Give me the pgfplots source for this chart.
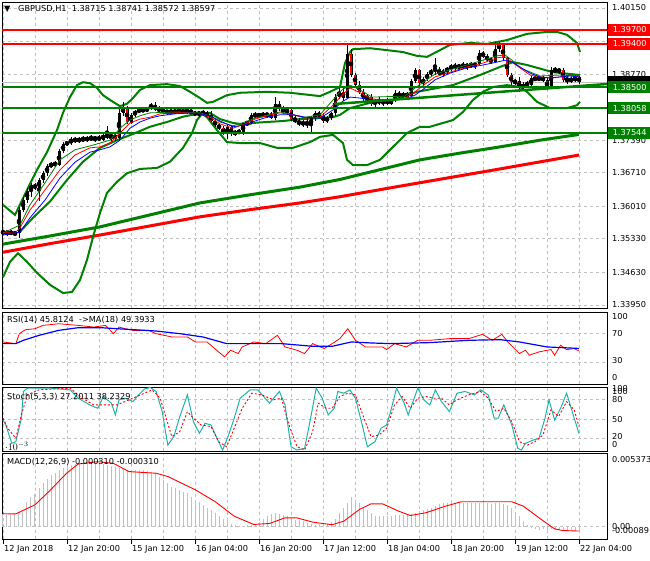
\documentclass[border=0pt]{standalone}
\usepackage{pgfplots}
\pgfplotsset{compat=1.18}
\usepackage{pgfplotstable}
\usepackage{fontspec}
\setmainfont{DejaVu Sans}

\definecolor{mtgreen}{HTML}{008000}
\definecolor{mtred}{HTML}{FF0000}
\definecolor{mtblue}{HTML}{0000FF}
\definecolor{mtgrid}{HTML}{C0C0C0}
\definecolor{mtteal}{HTML}{20B2AA}
\newcommand{\mtfont}{\fontsize{8.2pt}{9.5pt}\selectfont}

% H1 candles: bar, open, high, low, close
\pgfplotstableread{
i o h l c
0 1.3548 1.3552 1.3542 1.3545
1 1.3545 1.3550 1.3540 1.3547
2 1.3547 1.3551 1.3541 1.3544
3 1.3544 1.3549 1.3538 1.3546
4 1.3546 1.3600 1.3535 1.3594
5 1.3594 1.3620 1.3590 1.3615
6 1.3615 1.3640 1.3608 1.3633
7 1.3633 1.3650 1.3620 1.3645
8 1.3645 1.3650 1.3635 1.3640
9 1.3640 1.3660 1.3612 1.3655
10 1.3655 1.3675 1.3650 1.3670
11 1.3670 1.3690 1.3665 1.3685
12 1.3685 1.3693 1.3680 1.3690
13 1.3690 1.3695 1.3684 1.3688
14 1.3688 1.3720 1.3685 1.3716
15 1.3716 1.3735 1.3712 1.3731
16 1.3731 1.3738 1.3727 1.3734
17 1.3734 1.3745 1.3728 1.3741
18 1.3741 1.3746 1.3734 1.3737
19 1.3737 1.3745 1.3733 1.3742
20 1.3742 1.3748 1.3736 1.3739
21 1.3739 1.3747 1.3735 1.3744
22 1.3744 1.3750 1.3738 1.3741
23 1.3741 1.3747 1.3735 1.3745
24 1.3745 1.3749 1.3737 1.3740
25 1.3740 1.3753 1.3738 1.3750
26 1.3750 1.3768 1.3742 1.3746
27 1.3746 1.3752 1.3738 1.3749
28 1.3749 1.3755 1.3737 1.3743
29 1.3743 1.3806 1.3740 1.3795
30 1.3795 1.3819 1.3790 1.3808
31 1.3808 1.3811 1.3772 1.3776
32 1.3776 1.3795 1.3772 1.3792
33 1.3792 1.3802 1.3788 1.3799
34 1.3799 1.3806 1.3795 1.3803
35 1.3803 1.3808 1.3797 1.3800
36 1.3800 1.3809 1.3797 1.3806
37 1.3806 1.3817 1.3803 1.3813
38 1.3813 1.3818 1.3799 1.3802
39 1.3802 1.3810 1.3795 1.3806
40 1.3806 1.3809 1.3793 1.3797
41 1.3797 1.3803 1.3792 1.3800
42 1.3800 1.3804 1.3794 1.3797
43 1.3797 1.3803 1.3793 1.3801
44 1.3801 1.3806 1.3795 1.3798
45 1.3798 1.3803 1.3794 1.3801
46 1.3801 1.3804 1.3794 1.3800
47 1.3800 1.3805 1.3793 1.3796
48 1.3796 1.3801 1.3789 1.3793
49 1.3793 1.3800 1.3788 1.3797
50 1.3797 1.3802 1.3790 1.3794
51 1.3794 1.3799 1.3787 1.3791
52 1.3791 1.3800 1.3776 1.3779
53 1.3779 1.3783 1.3767 1.3770
54 1.3770 1.3775 1.3760 1.3764
55 1.3764 1.3768 1.3750 1.3752
56 1.3752 1.3770 1.3742 1.3766
57 1.3766 1.3770 1.3748 1.3752
58 1.3752 1.3760 1.3748 1.3757
59 1.3757 1.3762 1.3752 1.3755
60 1.3755 1.3778 1.3750 1.3774
61 1.3774 1.3780 1.3768 1.3776
62 1.3776 1.3796 1.3772 1.3792
63 1.3792 1.3797 1.3786 1.3790
64 1.3790 1.3796 1.3786 1.3793
65 1.3793 1.3797 1.3787 1.3791
66 1.3791 1.3796 1.3786 1.3794
67 1.3794 1.3798 1.3783 1.3786
68 1.3786 1.3830 1.3782 1.3815
69 1.3815 1.3820 1.3800 1.3804
70 1.3804 1.3810 1.3795 1.3798
71 1.3798 1.3806 1.3792 1.3802
72 1.3802 1.3805 1.3780 1.3783
73 1.3783 1.3790 1.3775 1.3779
74 1.3779 1.3785 1.3768 1.3772
75 1.3772 1.3782 1.3766 1.3777
76 1.3777 1.3785 1.3765 1.3770
77 1.3770 1.3790 1.3755 1.3785
78 1.3785 1.3799 1.3780 1.3795
79 1.3795 1.3800 1.3785 1.3790
80 1.3790 1.3795 1.3775 1.3779
81 1.3779 1.3790 1.3775 1.3786
82 1.3786 1.3798 1.3782 1.3795
83 1.3795 1.3835 1.3790 1.3830
84 1.3830 1.3848 1.3825 1.3840
85 1.3840 1.3848 1.3820 1.3828
86 1.3828 1.3942 1.3825 1.3920
87 1.3920 1.3930 1.3870 1.3876
88 1.3876 1.3880 1.3850 1.3855
89 1.3855 1.3862 1.3835 1.3840
90 1.3840 1.3845 1.3820 1.3825
91 1.3825 1.3835 1.3815 1.3830
92 1.3830 1.3835 1.3810 1.3814
93 1.3814 1.3826 1.3808 1.3822
94 1.3822 1.3830 1.3812 1.3818
95 1.3818 1.3826 1.3810 1.3823
96 1.3823 1.3828 1.3812 1.3815
97 1.3815 1.3826 1.3812 1.3823
98 1.3823 1.3844 1.3819 1.3838
99 1.3838 1.3842 1.3826 1.3830
100 1.3830 1.3840 1.3826 1.3836
101 1.3836 1.3840 1.3826 1.3831
102 1.3831 1.3867 1.3828 1.3862
103 1.3862 1.3890 1.3858 1.3885
104 1.3885 1.3888 1.3852 1.3858
105 1.3858 1.3870 1.3852 1.3866
106 1.3866 1.3882 1.3862 1.3878
107 1.3878 1.3888 1.3872 1.3884
108 1.3884 1.3910 1.3876 1.3888
109 1.3888 1.3892 1.3872 1.3876
110 1.3876 1.3888 1.3872 1.3884
111 1.3884 1.3892 1.3878 1.3888
112 1.3888 1.3898 1.3884 1.3894
113 1.3894 1.3900 1.3886 1.3890
114 1.3890 1.3899 1.3886 1.3896
115 1.3896 1.3902 1.3888 1.3892
116 1.3892 1.3900 1.3886 1.3897
117 1.3897 1.3903 1.3890 1.3894
118 1.3894 1.3902 1.3888 1.3899
119 1.3899 1.3928 1.3896 1.3922
120 1.3922 1.3926 1.3910 1.3913
121 1.3913 1.3918 1.3902 1.3908
122 1.3908 1.3912 1.3898 1.3903
123 1.3903 1.3945 1.3900 1.3930
124 1.3930 1.3945 1.3923 1.3938
125 1.3938 1.3940 1.3905 1.3910
126 1.3910 1.3912 1.3870 1.3875
127 1.3875 1.3880 1.3855 1.3860
128 1.3860 1.3866 1.3855 1.3862
129 1.3862 1.3872 1.3840 1.3848
130 1.3848 1.3860 1.3844 1.3856
131 1.3856 1.3862 1.3850 1.3855
132 1.3855 1.3872 1.3850 1.3868
133 1.3868 1.3874 1.3862 1.3866
134 1.3866 1.3872 1.3862 1.3870
135 1.3870 1.3874 1.3860 1.3864
136 1.3864 1.3870 1.3844 1.3848
137 1.3848 1.3892 1.3846 1.3886
138 1.3886 1.3892 1.3880 1.3883
139 1.3883 1.3890 1.3878 1.3886
140 1.3886 1.3889 1.3860 1.3864
141 1.3864 1.3872 1.3856 1.3868
142 1.3868 1.3872 1.3858 1.3862
143 1.3862 1.3875 1.3860 1.38715
144 1.38715 1.38741 1.38572 1.38597
}\candles

% upper band
\pgfplotstableread{
i p
0 1.3604
3 1.3583
6 1.3635
8.5 1.3677
11 1.3714
13.5 1.3760
15 1.3796
16.75 1.3829
18.5 1.3854
20 1.3860
21.75 1.3858
23.5 1.3848
25 1.3833
26.75 1.3823
29.25 1.3810
31 1.3815
32.5 1.3827
34.25 1.3844
36.75 1.3854
41 1.3856
44.25 1.3852
46.75 1.3840
49.25 1.3827
51 1.3817
52.5 1.3819
56 1.3833
59.25 1.3838
66 1.3840
71.75 1.3838
79.25 1.3831
81.75 1.3840
84.25 1.3850
85.5 1.3900
86.75 1.3923
87.5 1.3929
91.75 1.3931
96 1.3927
100 1.3923
103.5 1.3915
106 1.3913
109.25 1.3927
111.75 1.3938
116.75 1.3942
121 1.3940
126 1.3948
131 1.3961
136 1.3965
138.5 1.3965
141 1.3959
143.5 1.3942
144.25 1.3923
}\bbup

% lower band
\pgfplotstableread{
i p
0 1.3453
1.75 1.3485
3.75 1.3503
6 1.3485
8.5 1.3462
11.75 1.3437
15 1.3420
17.25 1.3422
19.25 1.3447
21 1.3489
22.5 1.3537
24.25 1.3587
26 1.3629
28.5 1.3652
31 1.3670
34.25 1.3679
38.5 1.3681
41.75 1.3694
45 1.3723
47.25 1.3754
48.5 1.3781
49.75 1.3794
51 1.3787
53.5 1.3760
56 1.3735
59.25 1.3733
64.25 1.3733
68.5 1.3723
72.5 1.3723
76.75 1.3735
79.25 1.3746
82.5 1.3750
85 1.3733
86 1.3698
87.5 1.3687
91 1.3687
94.25 1.3698
97.5 1.3725
101 1.3754
104.25 1.3767
106.75 1.3767
110 1.3775
112.5 1.3781
115 1.3798
117.5 1.3823
120 1.3840
122.5 1.3850
126 1.3854
129.25 1.3850
131 1.3840
133.5 1.3819
136.75 1.3806
141 1.3806
143.5 1.3812
144.25 1.3819
}\bblow

% inner band line
\pgfplotstableread{
i p
4.25 1.3548
7.5 1.3577
11.75 1.3611
16 1.3656
20 1.3694
24.25 1.3723
28.5 1.3739
32.5 1.3752
36.75 1.3767
41 1.3777
45 1.3788
48.5 1.3794
51.75 1.3796
54.25 1.3783
57.5 1.3775
61 1.3771
62.5 1.3775
66 1.3777
70 1.3779
74.25 1.3783
79.25 1.3785
82.5 1.3787
84.25 1.3792
86.75 1.3806
91.75 1.3817
96 1.3819
103.5 1.3840
112.5 1.3854
119.25 1.3875
124.25 1.3892
127.5 1.3902
131 1.3896
137.5 1.3881
144.25 1.3875
}\bbmid

\pgfplotstableread{
i p
0 1.3546
3 1.3545
4.25 1.3556
6.75 1.3593
10.5 1.3635
14.25 1.3677
18 1.3708
21.75 1.3723
24.25 1.3725
26.75 1.3733
29.25 1.3754
31.75 1.3775
34.25 1.3783
36.75 1.3787
39.25 1.3794
43 1.3796
46.75 1.3796
49.25 1.3794
51.75 1.3787
54.25 1.3773
57.5 1.3764
60.5 1.3773
63 1.3783
66 1.3790
69.25 1.3796
72.5 1.3792
75.5 1.3785
79.25 1.3787
82.5 1.3812
84.75 1.3833
86.75 1.3848
89.25 1.3838
92.25 1.3825
96.75 1.3823
100.5 1.3827
103 1.3840
105.5 1.3856
108 1.3871
111.75 1.3881
116 1.3892
120 1.3900
123.5 1.3911
125.5 1.3913
127.25 1.3902
129.25 1.3890
131.75 1.3875
134.25 1.3871
136.75 1.3869
139.25 1.3871
141.75 1.3875
144 1.3871
}\mafastred

\pgfplotstableread{
i p
0 1.3541
4.25 1.3547
6.75 1.3577
10.5 1.3614
14.25 1.3660
18 1.3693
21.75 1.3714
24.25 1.3719
26.75 1.3725
29.25 1.3739
31.75 1.3764
34.25 1.3777
36.75 1.3785
39.25 1.3790
43 1.3794
46.75 1.3796
49.25 1.3794
51.75 1.3790
54.25 1.3779
57.5 1.3767
60.5 1.3771
63 1.3779
66 1.3787
69.25 1.3792
72.5 1.3792
75.5 1.3787
79.25 1.3785
82.5 1.3802
84.75 1.3819
86.75 1.3829
89.25 1.3827
92.25 1.3823
96.75 1.3823
100.5 1.3825
103 1.3833
105.5 1.3848
108 1.3865
111.75 1.3879
116 1.3890
120 1.3896
123.5 1.3902
125.5 1.3906
127.25 1.3902
129.25 1.3892
131.75 1.3879
134.25 1.3871
136.75 1.3869
139.25 1.3871
141.75 1.3873
144 1.3871
}\mafastblue

\pgfplotstableread{
i p
0 1.3545
4.25 1.3562
6.75 1.3604
10.5 1.3650
14.25 1.3698
18 1.3719
21.75 1.3727
24.25 1.3733
26.75 1.3739
29.25 1.3764
31.75 1.3781
34.25 1.3790
36.75 1.3796
43 1.3798
49.25 1.3796
51.75 1.3790
54.25 1.3777
57.5 1.3769
60.5 1.3777
63 1.3785
69.25 1.3798
75.5 1.3787
79.25 1.3792
82.5 1.3823
84.75 1.3844
86.75 1.3854
89.25 1.3844
92.25 1.3829
100.5 1.3831
103 1.3848
108 1.3877
116 1.3896
123.5 1.3915
125.5 1.3917
127.25 1.3906
129.25 1.3890
134.25 1.3873
139.25 1.3875
144 1.3873
}\mafastgreen

\pgfplotstableread{
i p
0 1.3522
11.75 1.3539
24.25 1.3558
36.75 1.3583
49.25 1.3608
61.75 1.3625
74.25 1.3641
84.25 1.3657
104.25 1.3698
114.25 1.3712
124.25 1.3725
134.25 1.3739
144 1.3751
}\maslowgreen

\pgfplotstableread{
i p
0 1.3505
11.75 1.3523
24.25 1.3541
36.75 1.3560
49.25 1.3579
61.75 1.3594
74.25 1.3608
84.25 1.3621
99.25 1.3643
124.25 1.3679
144 1.3708
}\maslowred

\pgfplotstableread{
i v
0 58.4
3.2 56.1
4.1 69.9
5.6 75.4
8.0 76.8
10.0 81.4
13.9 83.7
18.8 81.4
22.7 79.1
25.6 81.4
27.6 69.9
29.0 79.1
30.5 76.8
32.5 74.5
36.4 74.5
38.3 69.9
40.3 67.6
42.2 65.3
46.1 65.3
48.1 58.4
51.0 58.4
53.9 44.6
55.4 37.7
56.9 46.9
58.8 42.3
59.8 51.5
62.7 58.4
65.7 56.1
68.6 67.6
70.5 51.5
73.5 46.9
75.4 42.3
77.4 56.1
80.3 49.2
82.3 56.1
84.2 63.0
86.2 76.8
88.1 60.7
90.6 51.5
94.9 51.5
95.9 47.8
97.9 56.1
100.8 51.5
103.7 60.7
106.7 60.7
111.6 63.0
116.4 63.0
119.9 69.0
122.3 60.7
124.7 69.0
126.2 58.4
129.1 42.3
130.6 46.9
131.6 40.0
134.0 44.6
137.0 47.8
137.9 40.0
139.4 53.8
140.9 47.8
142.8 49.2
144 45.8
}\rsi

\pgfplotstableread{
i v
0 56.1
3.2 56.1
5.1 60.7
9.0 67.6
13.9 74.5
18.8 78.2
24.6 78.2
28.5 76.8
38.3 73.6
44.2 69.9
50.0 65.3
55.9 56.1
62.7 56.1
69.6 56.1
77.4 52.4
82.3 52.4
87.1 58.4
92.0 57.0
96.9 56.1
106.7 57.5
116.4 60.7
124.3 61.6
129.1 58.4
136.0 51.5
144 49.4
}\rsima

\pgfplotstableread{
i v
0 48.5
0.7 40.7
2.2 12.0
3.2 14.6
4.6 51.0
5.1 93.0
6.1 98.2
11.9 98.2
16.8 95.6
18.8 82.5
21.7 72.0
23.7 66.8
25.1 85.1
27.1 74.7
28.1 56.4
29.0 79.9
30.5 82.5
32.5 77.3
33.9 87.7
35.4 97.1
36.8 99.2
38.3 93.0
39.8 61.6
41.2 9.3
42.7 22.4
44.2 53.8
46.1 87.7
47.6 45.9
49.1 27.6
50.5 43.3
52.0 40.7
53.5 19.8
54.9 1.5
56.4 25.0
57.8 51.2
59.3 82.5
61.8 95.6
63.7 95.6
66.6 74.7
69.1 93.0
70.5 72.0
72.0 6.7
73.5 1.5
75.4 4.1
76.9 51.2
78.3 98.2
79.8 82.5
81.3 56.4
82.8 66.8
83.7 93.0
85.2 90.3
86.7 95.6
88.1 82.5
89.6 45.9
91.1 6.7
93.0 14.6
94.5 35.5
95.9 40.7
96.9 61.6
98.4 98.2
100.3 74.7
101.3 56.4
103.7 98.2
105.2 79.9
106.7 72.0
108.1 95.6
109.6 77.3
111.6 61.6
113.5 90.3
115.5 93.0
117.9 87.7
119.4 95.6
121.3 87.7
122.8 51.2
123.8 51.2
125.2 72.0
127.2 40.7
128.7 4.1
129.6 1.5
130.6 12.0
132.6 17.2
134.0 19.8
135.5 51.2
136.5 79.9
137.9 48.5
139.4 66.8
140.9 90.3
142.3 61.6
144 27.2
}\stochmain

\pgfplotstableread{
i v
0 51.2
1.2 35.5
3.2 19.8
4.6 56.4
6.1 87.7
9.0 95.6
16.8 98.2
19.8 82.5
22.7 72.0
25.6 72.0
28.5 72.0
31.5 79.9
34.4 87.7
37.3 95.6
39.3 82.5
40.8 51.2
42.2 22.4
44.2 30.3
46.1 61.6
47.6 51.2
49.5 40.7
52.0 38.1
53.9 14.6
55.9 6.7
57.8 35.5
59.8 66.8
62.2 90.3
64.7 87.7
67.6 79.9
69.6 82.5
71.5 40.7
73.5 6.7
75.4 1.5
77.4 30.3
78.8 74.7
80.8 66.8
82.3 66.8
84.2 85.1
86.2 90.3
88.1 87.7
90.1 53.8
92.0 22.4
94.0 25.0
95.9 35.5
97.9 72.0
99.8 85.1
101.8 66.8
103.7 82.5
105.7 85.1
107.7 82.5
109.6 82.5
111.6 72.0
113.5 79.9
116.4 87.7
119.4 93.0
121.3 82.5
123.3 61.6
125.2 66.8
127.2 45.9
129.1 14.6
131.1 9.3
133.0 14.6
135.0 25.0
137.0 64.2
138.9 53.8
140.9 77.3
142.8 64.2
144 38.2
}\stochsig

\pgfplotstableread{
i v
0 0.00090
1 0.00090
2 0.00089
3 0.00090
4 0.00098
5 0.00111
6 0.00184
7 0.00220
8 0.00240
9 0.00280
10 0.00317
11 0.00350
12 0.00375
13 0.00390
14 0.00410
15 0.00426
16 0.00440
17 0.00450
18 0.00456
19 0.00462
20 0.00464
21 0.00465
22 0.00464
23 0.00462
24 0.00462
25 0.00458
26 0.00450
27 0.00445
28 0.00438
29 0.00430
30 0.00420
31 0.00414
32 0.00412
33 0.00414
34 0.00412
35 0.00410
36 0.00408
37 0.00400
38 0.00390
39 0.00365
40 0.00341
41 0.00317
42 0.00293
43 0.00280
44 0.00269
45 0.00256
46 0.00244
47 0.00220
48 0.00196
49 0.00178
50 0.00160
51 0.00140
52 0.00123
53 0.00100
54 0.00075
55 0.00057
56 0.00039
57 0.00020
58 0.00010
59 0.00008
60 0.00008
61 0.00010
62 0.00012
63 0.00020
64 0.00035
65 0.00055
66 0.00075
67 0.00090
68 0.00099
69 0.00095
70 0.00085
71 0.00075
72 0.00060
73 0.00051
74 0.00051
75 0.00045
76 0.00030
77 0.00017
78 0.00015
79 0.00017
80 0.00015
81 0.00020
82 0.00035
83 0.00060
84 0.00099
85 0.00140
86 0.00172
87 0.00220
88 0.00195
89 0.00172
90 0.00145
91 0.00123
92 0.00100
93 0.00080
94 0.00075
95 0.00075
96 0.00078
97 0.00080
98 0.00085
99 0.00087
100 0.00088
101 0.00087
102 0.00090
103 0.00100
104 0.00112
105 0.00123
106 0.00130
107 0.00136
108 0.00155
109 0.00168
110 0.00172
111 0.00170
112 0.00172
113 0.00175
114 0.00172
115 0.00170
116 0.00174
117 0.00172
118 0.00175
119 0.00172
120 0.00170
121 0.00172
122 0.00168
123 0.00172
124 0.00170
125 0.00168
126 0.00160
127 0.00140
128 0.00111
129 0.00075
130 0.00039
131 0.00010
132 -0.00012
133 -0.00019
134 -0.00020
135 -0.00018
136 -0.00022
137 -0.00019
138 -0.00024
139 -0.00020
140 -0.00025
141 -0.00022
142 -0.00026
143 -0.00028
144 -0.00031
}\macdhist

\pgfplotstableread{
i v
0 0.00095
3.2 0.00094
8.0 0.00160
11.9 0.00269
15.9 0.00390
18.8 0.00457
23.7 0.00474
27.6 0.00462
31.5 0.00402
38.3 0.00390
41.2 0.00366
48.1 0.00269
53.0 0.00184
57.8 0.00077
62.7 0.00017
66.6 0.00024
70.5 0.00065
73.5 0.00065
77.4 0.00034
82.3 0.00015
85.2 0.00041
89.1 0.00126
92.0 0.00167
94.9 0.00167
98.9 0.00114
101.8 0.00082
105.7 0.00102
110.6 0.00150
114.5 0.00182
127.2 0.00182
130.1 0.00150
134.0 0.00065
137.9 -0.00015
139.9 -0.00027
144 -0.00031
}\macdsig

\pgfplotsset{
  mtpanel/.style={
    scale only axis, width=605pt, xmin=-0.25, xmax=151,
    axis line style={black, line width=0.8pt},
    xtick={0,8,...,144}, xticklabels={}, yticklabels={},
    grid=major,
    major grid style={mtgrid, line width=0.7pt, dash pattern=on 3pt off 3pt},
    major tick length=0pt,
    clip mode=individual,
  },
  candle/.style={only marks, mark=none, forget plot,
    error bars/.cd, y dir=both, y explicit, error mark=none},
}
\tikzset{
  lbl/.style={anchor=west, inner sep=0pt, font=\mtfont},
  pbox/.style={anchor=west, font=\mtfont, text=white, inner xsep=3pt,
    inner ysep=0pt, minimum height=12pt, minimum width=43pt, xshift=1pt},
}

\begin{document}
\begin{tikzpicture}
\useasboundingbox (0pt,0pt) rectangle (650pt,-560pt);

% price window
\begin{axis}[mtpanel, at={(2pt,-308pt)}, anchor=south west, height=306pt,
  ymin=1.33886, ymax=1.40275,
  ytick={1.3395,1.3463,1.3533,1.3601,1.3671,1.3739,1.3808,1.3877,1.3946,1.4015}]
\addplot[mtgrid, line width=0.8pt] coordinates {(-1,1.38597) (152,1.38597)};
\addplot[mtred, line width=3pt] table[x=i,y=p]{\maslowred};
\addplot[mtgreen, line width=3pt] table[x=i,y=p]{\maslowgreen};
\addplot[mtgreen, line width=2pt] table[x=i,y=p]{\bbup};
\addplot[mtgreen, line width=2pt] table[x=i,y=p]{\bblow};
\addplot[mtgreen, line width=2pt] table[x=i,y=p]{\bbmid};
% wicks and bodies
\addplot[candle, error bar style={black, line width=1pt}]
  table[x=i, y expr={(\thisrow{h}+\thisrow{l})/2},
        y error expr={(\thisrow{h}-\thisrow{l})/2}]{\candles};
\addplot[candle, error bar style={black, line width=3pt}]
  table[x=i, y expr={(\thisrow{o}+\thisrow{c})/2},
        y error expr={max(abs(\thisrow{o}-\thisrow{c})/2,0.00006)}]{\candles};
\addplot[candle, error bar style={mtred, line width=1.5pt}]
  table[x=i, y expr={(\thisrow{o}+\thisrow{c})/2},
        y error expr={max((\thisrow{o}-\thisrow{c})/2-0.00005,0)}]{\candles};
\addplot[mtgreen, line width=0.8pt] table[x=i,y=p]{\mafastgreen};
\addplot[mtred, line width=0.8pt] table[x=i,y=p]{\mafastred};
\addplot[mtblue, line width=0.8pt] table[x=i,y=p]{\mafastblue};
% levels and trend line
\addplot[mtred, line width=2pt] coordinates {(-1,1.3970) (152,1.3970)};
\addplot[mtred, line width=2pt] coordinates {(-1,1.3940) (152,1.3940)};
\addplot[mtgreen, line width=2.5pt] coordinates {(-1,1.3850) (152,1.3850)};
\addplot[mtgreen, line width=2.5pt] coordinates {(-1,1.38058) (152,1.38058)};
\addplot[mtgreen, line width=2.5pt] coordinates {(-1,1.37544) (152,1.37544)};
\addplot[mtgreen, line width=2.5pt] coordinates {(83,1.38146) (152,1.38569)};
% price scale
\node[lbl, xshift=5pt] at (axis cs:151,1.4015) {1.40150};
\node[lbl, xshift=5pt] at (axis cs:151,1.3877) {1.38770};
\node[lbl, xshift=5pt] at (axis cs:151,1.3739) {1.37390};
\node[lbl, xshift=5pt] at (axis cs:151,1.3671) {1.36710};
\node[lbl, xshift=5pt] at (axis cs:151,1.3601) {1.36010};
\node[lbl, xshift=5pt] at (axis cs:151,1.3533) {1.35330};
\node[lbl, xshift=5pt] at (axis cs:151,1.3463) {1.34630};
\node[lbl, xshift=5pt] at (axis cs:151,1.3395) {1.33950};
\node[pbox, fill=mtred] at (axis cs:151,1.3970) {1.39700};
\node[pbox, fill=mtred] at (axis cs:151,1.3940) {1.39400};
\fill[black] (axis cs:151,1.38597) ++(1pt,-6pt) rectangle ++(43pt,12pt);
\node[pbox, fill=mtgreen] at (axis cs:151,1.3850) {1.38500};
\node[pbox, fill=mtgreen] at (axis cs:151,1.38058) {1.38058};
\node[pbox, fill=mtgreen] at (axis cs:151,1.37544) {1.37544};
\end{axis}

% RSI window
\begin{axis}[mtpanel, at={(2pt,-384pt)}, anchor=south west, height=72pt,
  ymin=0, ymax=100, ytick={30,70}]
\addplot[mtred, line width=0.8pt] table[x=i,y=v]{\rsi};
\addplot[mtblue, line width=1.2pt] table[x=i,y=v]{\rsima};
\end{axis}

% Stochastic window
\begin{axis}[mtpanel, at={(2pt,-451pt)}, anchor=south west, height=64pt,
  ymin=0, ymax=100, ytick={20,50,80}]
\addplot[mtteal, line width=1pt] table[x=i,y=v]{\stochmain};
\addplot[mtred, line width=0.9pt, dash pattern=on 2pt off 2pt] table[x=i,y=v]{\stochsig};
\end{axis}

% MACD window
\begin{axis}[mtpanel, at={(2pt,-539pt)}, anchor=south west, height=86pt,
  ymin=-0.00089, ymax=0.005373, ytick={0}]
\addplot[ycomb, mtgrid, line width=1pt] table[x=i,y=v]{\macdhist};
\addplot[mtred, line width=0.9pt] table[x=i,y=v]{\macdsig};
\end{axis}

% headers
\node[lbl] at (4pt,-9pt) {▼};
\node[lbl] at (18pt,-9pt) {GBPUSD,H1\ \ 1.38715 1.38741 1.38572 1.38597};
\node[lbl] at (7pt,-320pt) {RSI(14) 45.8124\ \ ->MA(18) 49.3933};
\node[lbl] at (7pt,-397pt) {Stoch(5,3,3) 27.2011 38.2329};
\node[lbl] at (7pt,-462pt) {MACD(12,26,9) -0.000310 -0.000310};

% indicator scales
\node[lbl] at (612pt,-317pt) {100};
\node[lbl] at (612pt,-334pt) {70};
\node[lbl] at (612pt,-361pt) {30};
\node[lbl] at (612pt,-378pt) {0};
\node[lbl] at (612pt,-389pt) {100};
\node[lbl] at (612pt,-392pt) {100};
\node[lbl] at (612pt,-400pt) {80};
\node[lbl] at (612pt,-420pt) {50};
\node[lbl] at (612pt,-437pt) {20};
\node[lbl] at (612pt,-445pt) {0};
\node[lbl] at (612pt,-460pt) {0.005373};
\node[lbl] at (612pt,-527pt) {0.00};
\node[lbl] at (612pt,-531pt) {-0.00089};

% time scale
\foreach \k/\lab in {0/12 Jan 2018, 1/12 Jan 20:00, 2/15 Jan 12:00, 3/16 Jan 04:00,
  4/16 Jan 20:00, 5/17 Jan 12:00, 6/18 Jan 04:00, 7/18 Jan 20:00,
  8/19 Jan 12:00, 9/22 Jan 04:00} {
  \draw[black, line width=0.8pt] (3pt+64pt*\k,-539pt) -- ++(0pt,-5pt);
  \node[lbl] at (4pt+64pt*\k,-549pt) {\lab};
}
\end{tikzpicture}
\end{document}
